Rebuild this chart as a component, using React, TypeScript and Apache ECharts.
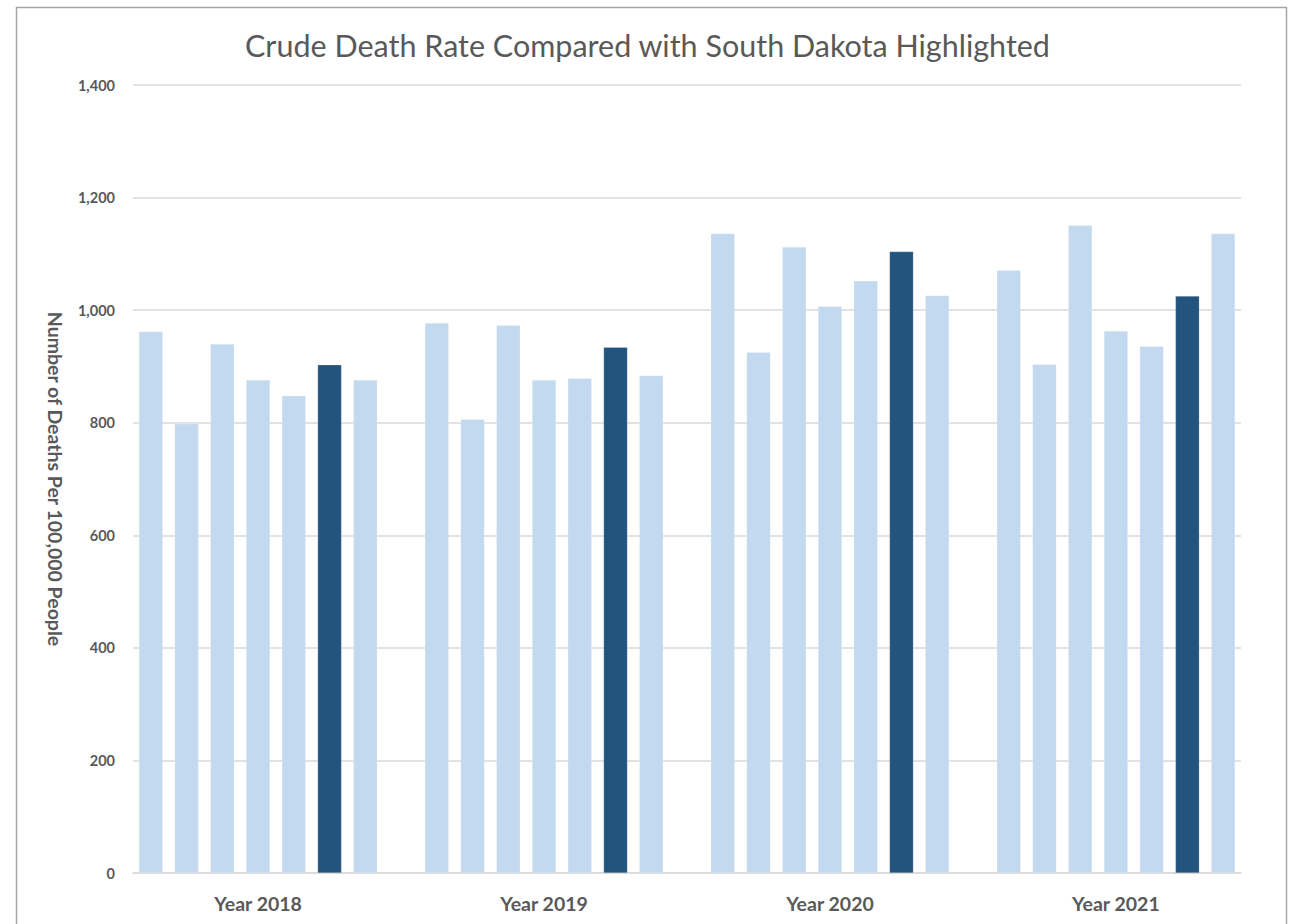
import React, { useEffect, useRef } from "react";
import * as echarts from "echarts";

const years = ["Year 2018", "Year 2019", "Year 2020", "Year 2021"];
const rates2018 = [962, 798, 940, 876, 848, 903, 876];
const rates2019 = [977, 806, 973, 876, 879, 934, 884];
const rates2020 = [1136, 925, 1112, 1007, 1052, 1104, 1026];
const rates2021 = [1071, 904, 1151, 963, 936, 1025, 1136];
const highlightIndex = 5; // South Dakota position within each year
const yTicks = [0, 200, 400, 600, 800, 1000, 1200, 1400];

const LIGHT = "#C3D9EF";
const DARK = "#22547E";
const TEXT = "#595959";

export default function App() {
  const ref = useRef<HTMLDivElement>(null);

  useEffect(() => {
    if (!ref.current) return;
    const chart = echarts.init(ref.current, undefined, { renderer: "svg" });

    const groups = [rates2018, rates2019, rates2020, rates2021];
    const categories: string[] = [];
    const data: any[] = [];
    groups.forEach((g, gi) => {
      g.forEach((v, i) => {
        categories.push(i === 3 ? years[gi] : "");
        data.push({
          value: v,
          itemStyle: { color: i === highlightIndex ? DARK : LIGHT },
        });
      });
      if (gi < groups.length - 1) {
        categories.push("");
        data.push(null);
      }
    });

    const font = "Lato, 'Open Sans', sans-serif";

    chart.setOption({
      animation: false,
      title: {
        text: "Crude Death Rate Compared with South Dakota Highlighted",
        left: "center",
        top: 24,
        textStyle: {
          color: TEXT,
          fontSize: 30.5,
          fontWeight: "normal",
          fontFamily: font,
        },
      },
      graphic: [
        {
          type: "rect",
          shape: { x: 16.5, y: 7.5, width: 1270, height: 1000 },
          style: { fill: "none", stroke: "#A6A6A6", lineWidth: 1.5 },
          silent: true,
        },
      ],
      grid: { left: 133, right: 54, top: 85, bottom: 51, containLabel: false },
      xAxis: {
        type: "category",
        data: categories,
        axisTick: { show: false },
        axisLine: { lineStyle: { color: "#D9D9D9", width: 1.5 } },
        axisLabel: {
          interval: 0,
          color: TEXT,
          fontSize: 19.5,
          fontWeight: "bold",
          fontFamily: font,
          margin: 20,
        },
      },
      yAxis: {
        type: "value",
        min: yTicks[0],
        max: yTicks[yTicks.length - 1],
        interval: 200,
        name: "Number of Deaths Per 100,000 People",
        nameLocation: "middle",
        nameRotate: -90,
        nameGap: 68,
        nameTextStyle: {
          color: TEXT,
          fontSize: 19.5,
          fontFamily: font,
          fontWeight: "bold",
        },
        axisLine: { show: false },
        axisTick: { show: false },
        splitLine: { lineStyle: { color: "#D9D9D9", width: 1.5 } },
        axisLabel: {
          color: TEXT,
          fontSize: 14.5,
          fontWeight: "bold",
          fontFamily: font,
          margin: 18,
          formatter: (v: number) => v.toLocaleString("en-US"),
        },
      },
      series: [
        {
          type: "bar",
          data,
          barCategoryGap: "33%",
          itemStyle: { borderColor: "rgba(255,255,255,0.4)", borderWidth: 0.5 },
        },
      ],
    });

    return () => chart.dispose();
  }, []);

  return (
    <div
      ref={ref}
      style={{ position: "fixed", left: 0, top: 0, width: 1295, height: 924, background: "#fff" }}
    />
  );
}
